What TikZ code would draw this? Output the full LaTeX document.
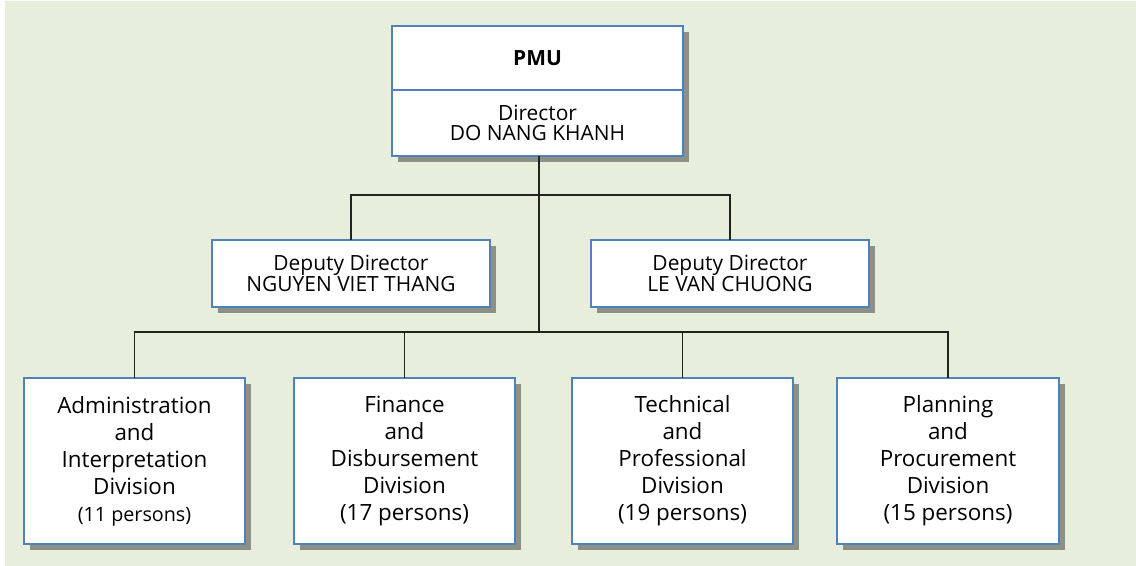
\documentclass[tikz,border=0pt]{standalone}
\usepackage{fontspec}
\setmainfont{Open Sans}
\usetikzlibrary{positioning,shadows}

\definecolor{paper}{HTML}{E8EEDC}
\definecolor{frame}{HTML}{4F81BD}
\definecolor{shade}{HTML}{8E9088}
\definecolor{wire}{HTML}{222222}

\begin{document}
\begin{tikzpicture}[
    x=0.75pt, y=-0.75pt,
    box/.style={rectangle, draw=frame, line width=1.5pt, fill=white,
      outer sep=0pt, align=center,
      general shadow={fill=shade, shadow xshift=4.5pt, shadow yshift=-4.5pt}},
    head/.style={box, minimum width=218pt,
      font=\fontsize{15.7}{15}\selectfont},
    deputy/.style={box, minimum width=208pt, minimum height=50pt,
      font=\fontsize{15.7}{15}\selectfont},
    division/.style={box, minimum width=166pt, minimum height=124.5pt,
      font=\fontsize{16.8}{20.25}\selectfont},
    link/.style={wire, line width=1.4pt},
    trunk/.style={wire, line width=1.9pt}
  ]

  \useasboundingbox (0,0) rectangle (1136,566);
  \fill[paper] (5,1) rectangle (1136,566);

  % head of the unit
  \node (pmu)      [head, minimum height=48pt] at (537.5,58) {\textbf{PMU}};
  \node (director) [head, minimum height=49.5pt, below=0pt of pmu]
                                                  {Director\\DO NANG KHANH};

  % deputies
  \node (deputyL) [deputy] at (351,273.5)         {Deputy Director\\NGUYEN VIET THANG};
  \node (deputyR) [deputy] at (730,273.5)         {Deputy Director\\LE VAN CHUONG};

  % divisions
  \node (admin)    [division] at (134.5,461)      {Administration\\and\\Interpretation\\Division\\
                                                    {\fontsize{14.8}{20.25}\selectfont(11 persons)}};
  \node (finance)  [division] at (404.5,461)      {Finance\\and\\Disbursement\\Division\\(17 persons)};
  \node (technical)[division] at (682.5,461)      {Technical\\and\\Professional\\Division\\(19 persons)};
  \node (planning) [division] at (948,461)        {Planning\\and\\Procurement\\Division\\(15 persons)};

  % bus lines
  \coordinate (deputybus) at (539,195);
  \coordinate (divbus)    at (539,332);

  \draw[trunk] (director.south -| divbus) -- (divbus);

  \draw[link] (deputyL.north) -- (deputyL.north |- deputybus)
                              -- (deputyR.north |- deputybus)
                              -- (deputyR.north);

  \draw[link] (admin.north) -- (admin.north |- divbus)
                            -- (planning.north |- divbus)
                            -- (planning.north);
  \draw[link] (finance.north)   -- (finance.north |- divbus);
  \draw[link] (technical.north) -- (technical.north |- divbus);

\end{tikzpicture}
\end{document}
